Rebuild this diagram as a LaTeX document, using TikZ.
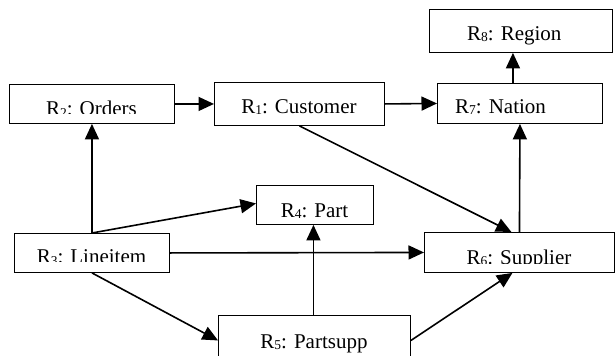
\documentclass[tikz,border=0pt]{standalone}
\usepackage{fontspec}
\setmainfont{Liberation Serif}
\usetikzlibrary{arrows.meta}
% small lowered digit for relation indices
\newcommand\relidx[1]{\raisebox{-1.5pt}{\fontsize{13.5}{13.5}\selectfont #1}}
\begin{document}
\begin{tikzpicture}[x=1pt,y=-1pt,
  box/.style={draw,line width=0.9pt,rectangle,inner sep=0pt,anchor=north west},
  lbl/.style={inner sep=0pt,font=\fontsize{21}{21}\selectfont},
  arr/.style={line width=1.6pt,-{Triangle[length=15.5pt,width=14pt]}},
  ln/.style={line width=1.6pt}]
\useasboundingbox (0,0) rectangle (616,356);

% relation boxes
\node[box,minimum width=165pt,minimum height=39pt] (ord) at (9,84) {};
\node[box,minimum width=170pt,minimum height=43pt] (cus) at (214,82) {};
\node[box,minimum width=183pt,minimum height=43pt] (reg) at (429,9) {};
\node[box,minimum width=165pt,minimum height=40pt] (nat) at (437,83) {};
\node[box,minimum width=117pt,minimum height=39pt] (prt) at (256,185) {};
\node[box,minimum width=155pt,minimum height=39pt] (lin) at (14,233) {};
\node[box,minimum width=190pt,minimum height=40pt] (sup) at (424,232) {};
\node[box,minimum width=192pt,minimum height=45pt] (psu) at (218,315) {};

% labels
\begin{scope}
  \clip (9,84) rectangle (174,113.5);
  \node[lbl,anchor=base] (tord) at (91.5,115.5) {R\relidx{2}: Orders};
\end{scope}
\node[lbl,anchor=base] (tcus) at (299,113) {R\relidx{1}: Customer};
\node[lbl,anchor=base west] (treg) at (467,40) {R\relidx{8}: Region};
\node[lbl,anchor=base west] (tnat) at (455,113) {R\relidx{7}: Nation};
\node[lbl,anchor=base] (tprt) at (314.5,217) {R\relidx{4}: Part};
\begin{scope}
  \clip (14,233) rectangle (169,261);
  \node[lbl,anchor=base] (tlin) at (91.5,263.5) {R\relidx{3}: Lineitem};
\end{scope}
\begin{scope}
  \clip (424,232) rectangle (614,263);
  \node[lbl,anchor=base] (tsup) at (519,264) {R\relidx{6}: Supplier};
\end{scope}
\begin{scope}
  \clip (218,315) rectangle (410,353);
  \node[lbl,anchor=base] (tpsu) at (314,348) {R\relidx{5}: Partsupp};
\end{scope}

% foreign-key references
\draw[arr] (ord.east) -- (cus.west);
\draw[arr] (cus.east) -- (nat.west);
\draw[arr] ([xshift=-7pt]nat.north) -- ([xshift=-8pt]reg.south);
\draw[arr] (lin.north) -- (ord.south);
\draw[arr] (lin.north) -- ([yshift=1.5pt]prt.west);
\draw[arr] (lin.east) -- (sup.west);
\draw[arr] (lin.south) -- ([yshift=-2.5pt]psu.west);
\draw[arr] (cus.south) -- ([xshift=-8pt]sup.north);
\draw[arr] (sup.north) -- (nat.south);
\draw[arr] ([xshift=-1pt]psu.north) -- ([xshift=-1.5pt]prt.south);
\draw[arr] ([yshift=-2.5pt]psu.east) -- ([xshift=-7pt]sup.south);
\end{tikzpicture}
\end{document}
